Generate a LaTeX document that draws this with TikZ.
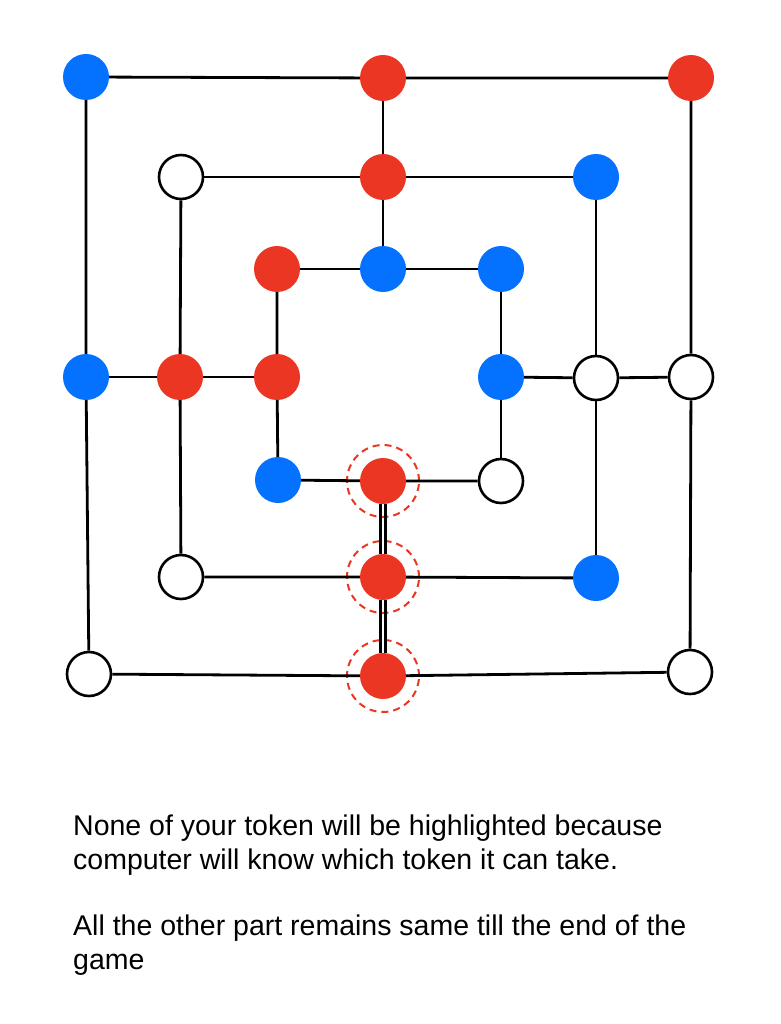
\documentclass[tikz,border=0pt]{standalone}
\usepackage{fontspec}
\setmainfont{Liberation Sans}
\definecolor{tokblue}{RGB}{4,113,255}
\definecolor{tokred}{RGB}{235,54,36}
\begin{document}
\begin{tikzpicture}[x=1pt,y=-1pt,
  tok/.style={circle,minimum size=46pt,inner sep=0pt},
  bluetok/.style={tok,fill=tokblue},
  redtok/.style={tok,fill=tokred},
  emptytok/.style={tok,draw=black,line width=2.6pt,fill=white,minimum size=44pt},
  ring/.style={draw=tokred,dashed,dash pattern=on 7pt off 5pt,line width=2pt},
  link/.style={line width=2.8pt,black},
  txt/.style={anchor=west,inner sep=0pt,font=\fontsize{28.5}{34}\selectfont,align=left}]
\useasboundingbox (0,0) rectangle (780,1024);
% outer square
\node[bluetok]  (o1) at (86,77) {};
\node[redtok]   (o2) at (383,78) {};
\node[redtok]   (o3) at (691,78) {};
\node[bluetok]  (o4) at (86,377) {};
\node[emptytok] (o5) at (691,377) {};
\node[emptytok] (o6) at (89,674) {};
\node[redtok]   (o7) at (383,676) {};
\node[emptytok] (o8) at (690,672) {};
% middle square
\node[emptytok] (m1) at (181,177) {};
\node[redtok]   (m2) at (383,177) {};
\node[bluetok]  (m3) at (596,177) {};
\node[redtok]   (m4) at (180,377) {};
\node[emptytok] (m5) at (596,378) {};
\node[emptytok] (m6) at (181,577) {};
\node[redtok]   (m7) at (383,577) {};
\node[bluetok]  (m8) at (596,578) {};
% inner square
\node[redtok]   (i1) at (277,269) {};
\node[bluetok]  (i2) at (383,269) {};
\node[bluetok]  (i3) at (501,269) {};
\node[redtok]   (i4) at (277,377) {};
\node[bluetok]  (i5) at (501,377) {};
\node[bluetok]  (i6) at (278,480) {};
\node[redtok]   (i7) at (383,481) {};
\node[emptytok] (i8) at (501,481) {};
% rings
\node[ring,circle,minimum size=72pt,inner sep=0pt] (r1) at (i7) {};
\node[ring,circle,minimum size=72pt,inner sep=0pt] (r2) at (m7) {};
\node[ring,circle,minimum size=72pt,inner sep=0pt] (r3) at (o7) {};
% links
\draw[link] (o1) -- (o2) -- (o3);
\draw[link] (o1) -- (o4) -- (o6);
\draw[link] (o3) -- (o5) -- (o8);
\draw[link] (o6) -- (o7) -- (o8);
\draw[link] (m1) -- (m2) -- (m3);
\draw[link] (m1) -- (m4) -- (m6);
\draw[link] (m3) -- (m5) -- (m8);
\draw[link] (m6) -- (m7) -- (m8);
\draw[link] (i1) -- (i2) -- (i3);
\draw[link] (i1) -- (i4) -- (i6);
\draw[link] (i3) -- (i5) -- (i8);
\draw[link] (i6) -- (i7) -- (i8);
\draw[link] (o2) -- (m2) -- (i2);
\draw[link] (o4) -- (m4) -- (i4);
\draw[link] (i5) -- (m5) -- (o5);
\draw[link] ([xshift=-2.2pt]i7.south) -- ([xshift=-2.2pt]m7.north);
\draw[link] ([xshift=2.2pt]i7.south) -- ([xshift=2.2pt]m7.north);
\draw[link] ([xshift=-2.2pt]m7.south) -- ([xshift=-2.2pt]o7.north);
\draw[link] ([xshift=2.2pt]m7.south) -- ([xshift=2.2pt]o7.north);
% text
\node[txt] (t1) at (73,845) {None of your token will be highlighted because\\computer will know which token it can take.};
\node[txt] (t2) at (73,945) {All the other part remains same till the end of the\\game};
\end{tikzpicture}
\end{document}
